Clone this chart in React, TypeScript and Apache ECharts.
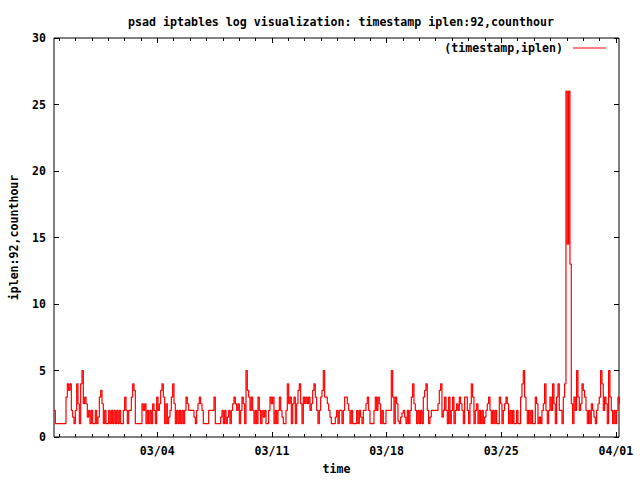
import React, { useEffect, useRef } from 'react';
import * as echarts from 'echarts';

const TITLE = 'psad iptables log visualization: timestamp iplen:92,counthour';
const SERIES_NAME = '(timestamp,iplen)';
const X_NAME = 'time';
const Y_NAME = 'iplen:92,counthour';

// x positions are in days relative to 03/04 00:00
const X_MIN = -6.306;
const X_MAX = 28.19;
const X_TICK_DAYS = [0, 7, 14, 21, 28];
const X_TICK_LABELS = ['03/04', '03/11', '03/18', '03/25', '04/01'];
const X_MINOR_DAYS = [-6, -5, -4, -3, -2, -1, 0, 1, 2, 3, 4, 5, 6, 7, 8, 9, 10, 11, 12, 13, 14, 15, 16, 17, 18, 19, 20, 21, 22, 23, 24, 25, 26, 27, 28];
const Y_MIN = 0;
const Y_MAX = 30;
const Y_INTERVAL = 5;

const START_DAY = -6.306;
const STEP_DAY = 0.0814;

const countsFeb25ToMar02 = [2, 1, 1, 1, 1, 1, 1, 1, 1, 3, 4, 3.5, 4, 2, 1.5, 1, 2, 4, 2.5, 1, 4, 5, 2.5, 3, 2.5, 1.5, 2, 1, 2, 1, 1, 2, 1, 1.5, 3, 3.5, 2.5, 1, 2, 1, 1, 2, 1, 2, 1, 2, 1, 2, 1, 2, 1, 1, 2, 3, 2, 1, 2, 2, 3, 4, 3.5, 1, 1, 1, 1, 1, 2.5, 2, 2.5, 1, 2, 1, 2, 1, 2.5];
const countsMar03ToMar08 = [2, 1, 3, 2, 2.5, 3.5, 4, 3, 1, 2.5, 1, 1.5, 2, 3, 4, 2.5, 1, 2, 1, 2, 1, 2, 1, 2, 3, 2.5, 2, 2, 2, 2, 1.5, 1, 2, 2.5, 3, 2.5, 2, 1, 1, 1, 1, 2, 2, 2, 2, 3, 1, 1, 1, 1, 1.5, 2, 1, 2, 1, 1.5, 2, 1, 2, 2.5, 3, 2.5, 2, 2.5, 1, 2, 3, 2.5, 1, 5, 3.5, 3];
const countsMar09ToMar14 = [2, 3, 2, 1, 2, 1, 3, 2, 1, 2, 1.5, 2, 1, 1, 2, 3, 2.5, 3, 1, 2, 1, 2, 3, 2, 1.5, 1, 1, 2, 4, 2.5, 3, 1, 2.5, 3, 1, 2.5, 3.5, 4, 2.5, 1, 3, 2.5, 3, 2.5, 3, 2, 2.5, 3.5, 4, 3, 2, 1, 2, 3, 3.5, 5, 3, 3, 2.5, 2, 1.5, 1, 1, 1, 1.5, 2, 1, 2, 2, 1, 2, 3];
const countsMar15ToMar20 = [3, 2.5, 2, 1, 2, 1, 1, 1, 2, 1, 2, 1.5, 1, 2, 2, 2.5, 3, 2, 1, 1, 1, 2, 3, 2, 3, 2.5, 1, 2, 1, 1, 2, 2, 2, 2, 5, 3, 1, 3, 2.5, 1.2, 1, 1.5, 1.8, 2, 1.5, 1, 2, 1, 2, 3, 4, 2.5, 2, 1, 2, 1, 2, 1, 3, 3.5, 4, 2, 1, 1.5, 2, 2, 2, 2, 2, 2.5, 3.5, 4];
const countsMar21ToMar26 = [1.5, 2, 3, 2, 1, 3, 1, 2, 3, 1, 2, 2.5, 2, 3, 2.5, 2, 1, 3, 3, 2, 1, 2.5, 4, 3, 1, 2, 2.5, 1, 2, 1, 2, 1, 1.5, 2, 2.5, 3, 2, 1, 2, 1, 2, 1, 1, 3, 2.5, 1, 2, 2.5, 3, 2.5, 1, 2, 1, 2, 1, 1, 2, 1, 1, 3, 4, 5, 3, 2, 1, 2, 1, 2, 1, 1, 3, 2.5];
const countsMar27ToApr01 = [1, 1.5, 1, 2, 2.5, 4, 2, 1, 2, 3, 2, 4, 2.5, 1, 3, 4, 2, 2, 1, 3, 4, 26, 14.5, 26, 13, 2.5, 1, 3, 2, 5, 3, 2, 2.5, 4, 3.5, 3, 2, 1, 2, 1, 2.5, 2, 1.5, 1, 2, 2.5, 3, 5, 4, 2, 3, 2.5, 1, 5, 3, 2, 1, 2, 1, 2, 3, 2.5];

const COUNTS = [
  ...countsFeb25ToMar02,
  ...countsMar03ToMar08,
  ...countsMar09ToMar14,
  ...countsMar15ToMar20,
  ...countsMar21ToMar26,
  ...countsMar27ToApr01,
];

const FONT_FAMILY = '"DejaVu Sans Mono", "Liberation Mono", monospace';
const FONT_SIZE = 11.6;

export default function App() {
  const ref = useRef<HTMLDivElement>(null);

  useEffect(() => {
    if (!ref.current) return;
    const chart = echarts.init(ref.current, undefined, { renderer: 'svg' });
    const text = { fontFamily: FONT_FAMILY, fontSize: FONT_SIZE, fontWeight: 'bold' as const, color: '#000' };
    const data = COUNTS.map((v, i) => [START_DAY + i * STEP_DAY, v]);
    const labelFor = (v: number) => {
      const k = X_TICK_DAYS.indexOf(Math.round(v));
      return k >= 0 ? X_TICK_LABELS[k] : '';
    };
    const noLine = { show: false, onZero: false };
    const baseX = { type: 'value' as const, min: X_MIN, max: X_MAX, splitLine: { show: false }, axisLine: noLine };
    const baseY = { type: 'value' as const, min: Y_MIN, max: Y_MAX, interval: Y_INTERVAL, splitLine: { show: false }, axisLine: noLine };

    chart.setOption({
      animation: false,
      backgroundColor: '#fff',
      title: {
        text: TITLE,
        left: 336,
        textAlign: 'center',
        top: 11,
        textStyle: { ...text },
      },
      legend: {
        right: 34,
        top: 42,
        padding: 0,
        align: 'right',
        icon: 'rect',
        itemWidth: 33,
        itemHeight: 1,
        textStyle: { ...text, padding: [0, 5, 0, 0] },
        data: [SERIES_NAME],
      },
      grid: {
        left: 54,
        top: 38,
        width: 565,
        height: 402,
        show: true,
        borderColor: '#000',
        borderWidth: 1,
        backgroundColor: 'transparent',
      },
      xAxis: [
        {
          ...baseX,
          position: 'bottom',
          name: X_NAME,
          nameLocation: 'middle',
          nameGap: 26,
          nameTextStyle: { ...text },
          axisTick: { show: true, inside: true, length: 5, customValues: X_TICK_DAYS, lineStyle: { color: '#000' } },
          axisLabel: { show: true, margin: 8, customValues: X_TICK_DAYS, formatter: labelFor, ...text },
        },
        {
          ...baseX,
          position: 'bottom',
          axisTick: { show: true, inside: true, length: 3, customValues: X_MINOR_DAYS, lineStyle: { color: '#000' } },
          axisLabel: { show: false },
        },
        {
          ...baseX,
          position: 'top',
          axisTick: { show: true, inside: true, length: 5, customValues: X_TICK_DAYS, lineStyle: { color: '#000' } },
          axisLabel: { show: false },
        },
        {
          ...baseX,
          position: 'top',
          axisTick: { show: true, inside: true, length: 3, customValues: X_MINOR_DAYS, lineStyle: { color: '#000' } },
          axisLabel: { show: false },
        },
      ],
      yAxis: [
        {
          ...baseY,
          position: 'left',
          name: Y_NAME,
          nameLocation: 'middle',
          nameRotate: 90,
          nameGap: 34,
          nameTextStyle: { ...text },
          axisTick: { show: true, inside: true, length: 5, lineStyle: { color: '#000' } },
          axisLabel: { show: true, margin: 8, ...text },
        },
        {
          ...baseY,
          position: 'right',
          axisTick: { show: true, inside: true, length: 5, lineStyle: { color: '#000' } },
          axisLabel: { show: false },
        },
      ],
      series: [
        {
          name: SERIES_NAME,
          type: 'line',
          xAxisIndex: 0,
          yAxisIndex: 0,
          data,
          step: 'end',
          showSymbol: false,
          symbol: 'none',
          clip: true,
          color: '#ff0000',
          lineStyle: { color: '#ff0000', width: 1.2 },
        },
      ],
    });
    return () => chart.dispose();
  }, []);

  return (
    <div
      ref={ref}
      style={{ position: 'fixed', left: 0, top: 0, width: 640, height: 480, background: '#fff' }}
    />
  );
}
